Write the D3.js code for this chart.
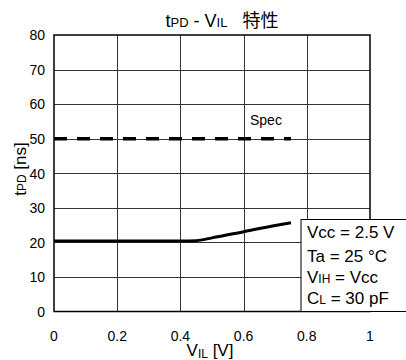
<!DOCTYPE html>
<html lang="ja">
<meta charset="utf-8">
<head>
    <script src="https://d3js.org/d3.v7.min.js"></script>
</head>
<body style="margin:0;background:#fff">
<style>
	svg text {
	font-family: "Liberation Sans", Arial, "Noto Sans CJK JP", sans-serif;
	fill: #000;
	}
</style>
<script>
// curve
var vil = [0, 0.2, 0.4, 0.45, 0.5, 0.6, 0.7, 0.75];
var tpd = [20.4, 20.4, 20.4, 20.5, 21.3, 23.1, 24.9, 25.7];
var specX = [0, 0.75];
var specY = [50, 50];
var xTicks = [0, 0.2, 0.4, 0.6, 0.8, 1];
var yTicks = [0, 10, 20, 30, 40, 50, 60, 70, 80];
var legendLines = [["Vcc = 2.5 V"], ["Ta = 25 °C"], ["V", "IH", " = Vcc"], ["C", "L", " = 30 pF"]];

var width = 406, height = 360;
var plotL = 54, plotR = 370, plotT = 35, plotB = 311.5;

var svg = d3.select("body").append("svg")
	.attr("width", width)
	.attr("height", height);

var x = d3.scaleLinear().domain([0, 1]).range([plotL, plotR]);
var y = d3.scaleLinear().domain([0, 80]).range([plotB, plotT]);

// grid
svg.append("g").selectAll("line")
	.data(xTicks.slice(1, -1))
	.enter().append("line")
	.attr("x1", function(d) { return Math.round(x(d)) + 0.5; })
	.attr("x2", function(d) { return Math.round(x(d)) + 0.5; })
	.attr("y1", plotT).attr("y2", plotB)
	.attr("stroke", "#333").attr("stroke-width", 1);
svg.append("g").selectAll("line")
	.data(yTicks.slice(1, -1))
	.enter().append("line")
	.attr("y1", function(d) { return Math.round(y(d)) + 0.5; })
	.attr("y2", function(d) { return Math.round(y(d)) + 0.5; })
	.attr("x1", plotL).attr("x2", plotR)
	.attr("stroke", "#333").attr("stroke-width", 1);

svg.append("rect")
	.attr("x", plotL).attr("y", plotT)
	.attr("width", plotR - plotL).attr("height", plotB - plotT)
	.attr("fill", "none").attr("stroke", "#000").attr("stroke-width", 1.5);

// tick labels
svg.append("g").selectAll("text")
	.data(yTicks)
	.enter().append("text")
	.attr("x", 45)
	.attr("y", function(d) { return y(d); })
	.attr("dy", ".38em")
	.attr("text-anchor", "end")
	.attr("font-size", 14)
	.text(function(d) { return d; });
svg.append("g").selectAll("text")
	.data(xTicks)
	.enter().append("text")
	.attr("x", function(d) { return x(d); })
	.attr("y", 341)
	.attr("text-anchor", "middle")
	.attr("font-size", 14)
	.text(function(d) { return d; });

// spec line
var line = d3.line()
	.x(function(d) { return x(d[0]); })
	.y(function(d) { return y(d[1]); });
svg.append("path")
	.attr("d", line(d3.zip(specX, specY)))
	.attr("fill", "none")
	.attr("stroke", "#000")
	.attr("stroke-width", 3.5)
	.attr("stroke-dasharray", "13,10");
svg.append("text")
	.attr("x", 250).attr("y", 125)
	.attr("font-size", 14)
	.text("Spec");

// data curve
svg.append("path")
	.attr("d", line.curve(d3.curveMonotoneX)(d3.zip(vil, tpd)))
	.attr("fill", "none")
	.attr("stroke", "#000")
	.attr("stroke-width", 3);

// legend box
svg.append("rect")
	.attr("x", 301).attr("y", 219.5)
	.attr("width", 120).attr("height", plotB - 219.5)
	.attr("fill", "#fff").attr("stroke", "#000").attr("stroke-width", 1);
var baseY = [238, 262, 283, 304];
legendLines.forEach(function(parts, i) {
	var t = svg.append("text")
		.attr("x", 307).attr("y", baseY[i])
		.attr("font-size", 17);
	parts.forEach(function(p, j) {
		t.append("tspan")
			.attr("font-size", j == 1 ? 12 : 17)
			.text(p);
	});
});

// title
var title = svg.append("text")
	.attr("x", 222).attr("y", 27)
	.attr("text-anchor", "middle")
	.attr("font-size", 18);
title.append("tspan").text("t");
title.append("tspan").attr("font-size", 13).text("PD");
title.append("tspan").text(" - V");
title.append("tspan").attr("font-size", 13).text("IL");
title.append("tspan").attr("xml:space", "preserve").text("   特性");

// axis titles
var xl = svg.append("text")
	.attr("x", 210).attr("y", 356)
	.attr("text-anchor", "middle")
	.attr("font-size", 17);
xl.append("tspan").text("V");
xl.append("tspan").attr("font-size", 12).attr("dy", 2).text("IL");
xl.append("tspan").attr("dy", -2).text(" [V]");

var yl = svg.append("text")
	.attr("transform", "translate(26,169) rotate(-90)")
	.attr("text-anchor", "middle")
	.attr("font-size", 17);
yl.append("tspan").text("t");
yl.append("tspan").attr("font-size", 12).text("PD");
yl.append("tspan").text(" [ns]");
</script>
</body>
</html>
